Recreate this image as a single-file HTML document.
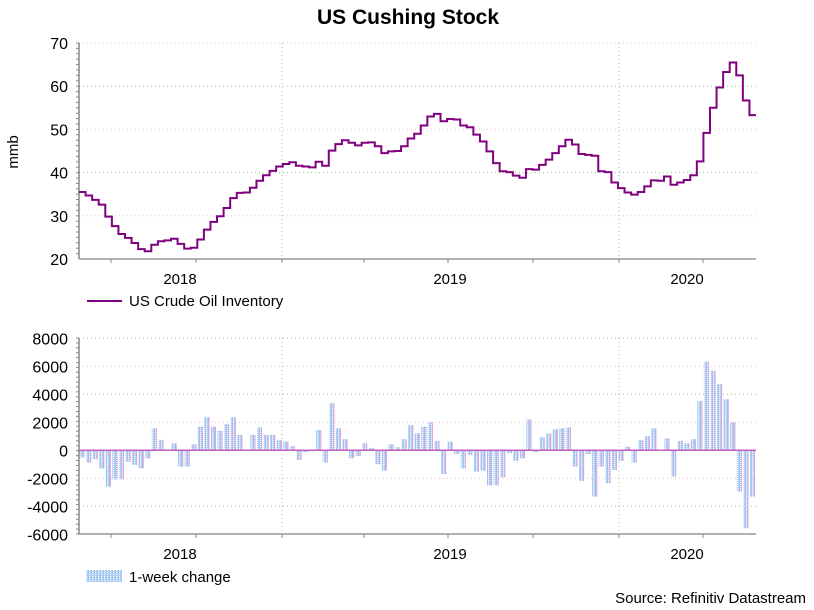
<!DOCTYPE html>
<html><head><meta charset="utf-8"><style>
html,body{margin:0;padding:0;background:#fff;}
svg{display:block;font-family:"Liberation Sans",Arial,sans-serif;}
</style></head><body>
<svg id="c" width="814" height="610" viewBox="0 0 814 610">
<defs>
<pattern id="hatch" width="3" height="2" patternUnits="userSpaceOnUse">
<rect width="3" height="2" fill="#b5d2f4"/><rect x="1" width="1" height="2" fill="#9fc2ee"/><rect x="2" width="1" height="1" fill="#ffffff"/>
</pattern>
</defs>
<text x="408" y="24" text-anchor="middle" font-size="21" font-weight="bold">US Cushing Stock</text>
<text transform="translate(18,152) rotate(-90)" text-anchor="middle" font-size="15">mmb</text>
<g id="top"></g>
<g id="bot"></g>
<g>
<line x1="87" y1="301" x2="122" y2="301" stroke="#800080" stroke-width="2"/>
<text x="129" y="306" font-size="15">US Crude Oil Inventory</text>
</g>
<g>
<rect x="86" y="570" width="36" height="12" fill="url(#hatch)"/>
<text x="129" y="582" font-size="15">1-week change</text>
</g>
<text x="806" y="603" text-anchor="end" font-size="15">Source: Refinitiv Datastream</text>
</svg>
<script>
const levels=[35.5,34.7,33.7,32.6,29.8,27.6,25.8,24.9,23.7,22.3,21.8,23.3,24.1,24.3,24.7,23.5,22.4,22.6,24.5,26.8,28.6,29.9,31.8,34.1,35.3,35.4,36.5,38.1,39.4,40.4,41.4,42.0,42.4,41.6,41.4,41.2,42.5,41.6,45.1,46.6,47.5,46.9,46.3,46.9,47.0,46.1,44.5,44.9,45.0,46.1,47.9,49.0,
50.9,53.0,53.6,51.9,52.4,52.3,50.9,50.5,48.8,47.2,44.9,42.2,40.3,40.1,39.3,38.8,40.8,40.7,41.8,43.0,44.5,46.1,47.6,46.5,44.3,44.1,43.9,40.3,40.1,37.7,36.4,35.4,34.9,35.5,36.8,38.2,38.1,39.1,37.2,37.7,38.3,39.4,42.6,49.2,55.0,59.7,63.3,65.5,62.5,56.7,53.3];
const changes=[-520,-880,-640,-1290,-2600,-2070,-2070,-810,-1050,-1290,-570,1570,740,0,500,-1170,-1170,430,1690,2360,1690,1380,1880,2360,1100,-50,1100,1640,1100,1100,740,620,310,-690,-120,-70,1450,-880,3360,1570,790,-570,-400,500,170,-1000,-1450,430,210,790,1790,1210,
1690,2000,670,-1690,620,-260,-1290,-330,-1520,-1450,-2500,-2500,-1930,-210,-760,-570,2210,-120,930,1210,1500,1570,1640,-1170,-2190,-260,-3310,-1170,-2360,-1400,-760,260,-880,740,1020,1570,-50,860,-1880,670,500,790,3520,6330,5690,4740,3640,2000,-2950,-5570,-3310];
const topTicks=[20,30,40,50,60,70];
const botTicks=[-6000,-4000,-2000,0,2000,4000,6000,8000];
const yearLabels=["2018","2019","2020"];
const yearLabelX=[180,450,687];
const NS="http://www.w3.org/2000/svg";
const X0=79,X1=756;
function mk(tag,attrs,parent){const e=document.createElementNS(NS,tag);for(const k in attrs)e.setAttribute(k,attrs[k]);parent.appendChild(e);return e;}
const N=Math.max(levels.length,changes.length);
const step=(X1-X0)/N;
const xs=i=>X0+i*step;
const yTop=v=>259-(v-20)/50*216;
const yBot=v=>450.3-v*112/8000;
function axes(g,yfn,ticks,base,top,fmt){
  ticks.forEach(t=>{const y=yfn(t);
    const l=mk('line',{x1:X0,x2:X1,y1:y,y2:y,stroke:(t/(ticks[1]-ticks[0]))%2===0?'#8fc88f':'#f3b8d8','stroke-dasharray':'1,3'},g);
    
    const tx=mk('text',{x:68,y:y+6,'text-anchor':'end','font-size':16},g);tx.textContent=fmt(t);
    
  });
  for(let y=top;y<=base;y+=(base-top)/40){mk('line',{x1:X0-3,x2:X0,y1:y,y2:y,stroke:'#888'},g);}
  [282,619].forEach(x=>{const l=mk('line',{x1:x,x2:x,y1:top,y2:base,stroke:'#8fc88f','stroke-dasharray':'1,3'},g);
    });
  const a=mk('line',{x1:X0,x2:X0,y1:top,y2:base,stroke:'#888','stroke-width':1.5},g);
  
  const b=mk('line',{x1:X0,x2:X1,y1:base,y2:base,stroke:'#999','stroke-width':1.5},g);
  
  [111,196,282,364,448,533,619,703].forEach(x=>mk('line',{x1:x,x2:x,y1:base,y2:base+4,stroke:'#888'},g));
  yearLabels.forEach((s,i)=>{const t=mk('text',{x:yearLabelX[i],y:base+25,'text-anchor':'middle','font-size':15},g);t.textContent=s;
    });
}
const gt=document.getElementById('top'),gb=document.getElementById('bot');
axes(gt,yTop,topTicks,259,43,t=>t);
axes(gb,yBot,botTicks,534,338,t=>t);
let d='';
levels.forEach((v,i)=>{const y=yTop(v);d+=(i?'L':'M')+xs(i)+','+y+'L'+(xs(i)+step)+','+y;});
const p=mk('path',{d:d,fill:'none',stroke:'#800080','stroke-width':2},gt);

changes.forEach((v,i)=>{const y0=yBot(0),y=yBot(v);
  const r=mk('rect',{x:xs(i)+0.5,y:Math.min(y,y0),width:step-1.5,height:Math.abs(y-y0),fill:'url(#hatch)'},gb);
  
  mk('line',{x1:xs(i)+step-1.5,x2:xs(i)+step-1.5,y1:y0,y2:y,stroke:'#e0a0d8','stroke-width':1},gb);
});
const z=mk('line',{x1:X0,x2:X1,y1:yBot(0),y2:yBot(0),stroke:'#c060c0','stroke-width':1.5},gb);

</script>
</body></html>
